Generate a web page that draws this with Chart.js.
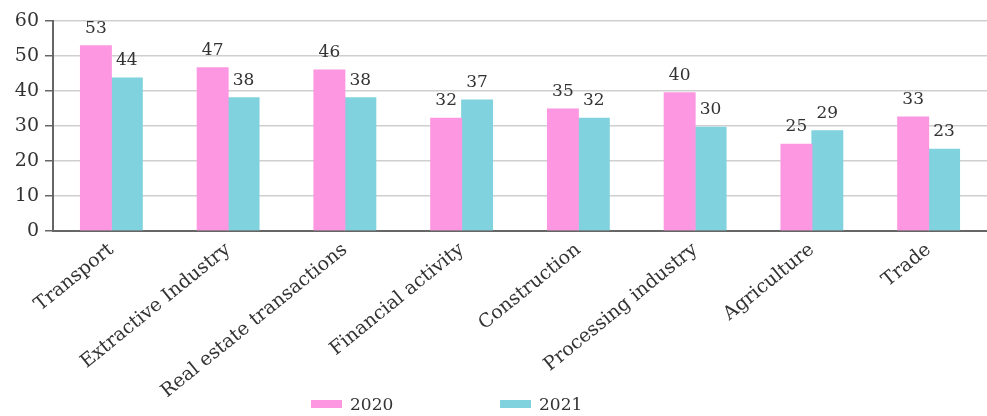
<!DOCTYPE html>
<html>
<head>
<meta charset="utf-8">
<script src="https://cdn.jsdelivr.net/npm/chart.js@4/dist/chart.umd.min.js"></script>
<style>
  html, body { margin: 0; padding: 0; background: #fff; overflow: hidden; }
  #wrap { position: relative; width: 987px; height: 416px; }
  #legend { position: absolute; left: 0; top: 394px; width: 987px; height: 20px;
    font-family: 'DejaVu Serif', serif; font-size: 17px; color: #333; }
  .lg-item { position: absolute; top: 0; display: flex; align-items: center; }
  .lg-box { width: 31px; height: 8px; margin-right: 8px; }
</style>
</head>
<body>
<div id="wrap">
  <canvas id="chart"></canvas>
  <div id="legend"></div>
</div>
<script>
/* Sector values, 2020 vs 2021 */
const categories = ['Transport', 'Extractive Industry', 'Real estate transactions', 'Financial activity',
  'Construction', 'Processing industry', 'Agriculture', 'Trade'];
const values2020 = [52.9, 46.6, 46.0, 32.2, 34.8, 39.5, 24.7, 32.5];
const values2021 = [43.7, 38.0, 38.0, 37.4, 32.2, 29.6, 28.6, 23.3];
const seriesNames = ['2020', '2021'];
const seriesColors = ['#fe97e2', '#80d3de'];
const yTicks = [0, 10, 20, 30, 40, 50, 60];

const FONT = "'DejaVu Serif', serif";
const TEXT = '#333';

// value labels above each bar
const barLabels = {
  id: 'barLabels',
  afterDatasetsDraw(chart) {
    const ctx = chart.ctx;
    ctx.save();
    ctx.font = `17px ${FONT}`;
    ctx.fillStyle = TEXT;
    ctx.textAlign = 'center';
    ctx.textBaseline = 'alphabetic';
    chart.data.datasets.forEach((ds, i) => {
      chart.getDatasetMeta(i).data.forEach((bar, j) => {
        ctx.fillText(Math.round(ds.data[j]), bar.x, bar.y - 13);
      });
    });
    ctx.restore();
  }
};

const chart = new Chart(document.getElementById('chart'), {
  type: 'bar',
  data: {
    labels: categories,
    datasets: [
      { label: seriesNames[0], data: values2020, backgroundColor: seriesColors[0] },
      { label: seriesNames[1], data: values2021, backgroundColor: seriesColors[1] }
    ]
  },
  options: {
    responsive: true,
    maintainAspectRatio: false,
    animation: false,
    layout: { padding: { top: 21, right: 0, bottom: 13, left: 0 } },
    datasets: { bar: { categoryPercentage: 0.53, barPercentage: 1.0, borderWidth: 0, inflateAmount: 0.5 } },
    plugins: { legend: { display: false }, tooltip: { enabled: false } },
    scales: {
      x: {
        grid: { display: false },
        border: { color: '#666', width: 2 },
        ticks: { color: TEXT, font: { family: FONT, size: 19 }, minRotation: 39, maxRotation: 39, autoSkip: false, padding: 0 }
      },
      y: {
        min: 0, max: 60,
        afterFit: s => { s.width = 53; },
        afterBuildTicks: s => { s.ticks = yTicks.map(v => ({ value: v })); },
        grid: { color: '#cfcfcf', lineWidth: 1.5, tickColor: '#666', tickLength: 8 },
        border: { color: '#666', width: 2 },
        ticks: { color: TEXT, font: { family: FONT, size: 19 }, padding: 6 }
      }
    }
  },
  plugins: [barLabels]
});

// legend below the chart
const legend = document.getElementById('legend');
const legendX = [311, 500];
seriesNames.forEach((name, i) => {
  const item = document.createElement('div');
  item.className = 'lg-item';
  item.style.left = legendX[i] + 'px';
  item.innerHTML = `<span class="lg-box" style="background:${seriesColors[i]}"></span><span>${name}</span>`;
  legend.appendChild(item);
});
</script>
</body>
</html>
